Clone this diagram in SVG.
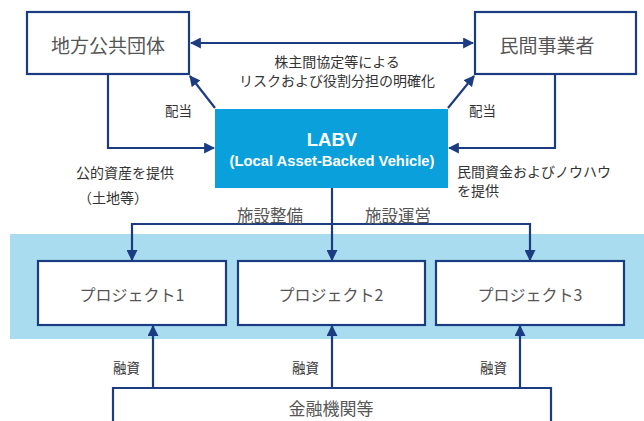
<svg xmlns="http://www.w3.org/2000/svg" width="644" height="421" viewBox="0 0 644 421">
<style>
.box{fill:#fff;stroke:#1c3c82;stroke-width:2.2}
.ln{fill:none;stroke:#1c3c82;stroke-width:2.2}
.t{font-family:"Noto Sans CJK JP","Noto Sans",sans-serif;fill:#555;text-anchor:middle;dominant-baseline:central}
.s{font-family:"Noto Sans CJK JP","Noto Sans",sans-serif;fill:#333;font-size:13.5px;dominant-baseline:central}
.m{font-size:14px}
.w{font-family:"Liberation Sans",Arial,sans-serif;fill:#fff;font-weight:bold;text-anchor:middle}
</style>
<defs>
<marker id="ah" viewBox="0 0 10 10" refX="9" refY="5" markerWidth="5" markerHeight="5" orient="auto-start-reverse" markerUnits="strokeWidth">
<path d="M0,0 L10,5 L0,10 z" fill="#1c3c82"/>
</marker>
</defs>
<rect x="10" y="234" width="634" height="105" fill="#aadcf0"/>
<g id="chihou">
<rect class="box" x="27" y="12" width="162" height="62"/>
<text class="t" x="108" y="44" font-size="19">地方公共団体</text>
</g>
<g id="minkan">
<rect class="box" x="475" y="12" width="161" height="62"/>
<text class="t" x="547" y="44" font-size="19">民間事業者</text>
</g>
<g id="labv">
<rect x="215" y="109" width="233" height="79" fill="#0aa0dc"/>
<text class="w" x="332" y="146" font-size="18.5">LABV</text>
<text class="w" x="332" y="166" font-size="14.8">(Local Asset-Backed Vehicle)</text>
</g>
<g id="p1">
<rect class="box" x="38" y="261" width="188" height="64"/>
<text class="t" x="132" y="294" font-size="16">プロジェクト1</text>
</g>
<g id="p2">
<rect class="box" x="238" y="261" width="187" height="64"/>
<text class="t" x="331" y="294" font-size="16">プロジェクト2</text>
</g>
<g id="p3">
<rect class="box" x="436" y="261" width="188" height="64"/>
<text class="t" x="530" y="294" font-size="16">プロジェクト3</text>
</g>
<g id="kinyu">
<path class="box" d="M113,425 V388 H551 V425"/>
<text class="t" x="331" y="407" font-size="17">金融機関等</text>
</g>
<g id="connectors">
<line class="ln" x1="191" y1="43" x2="473" y2="43" marker-start="url(#ah)" marker-end="url(#ah)"/>
<line class="ln" x1="215" y1="108" x2="190" y2="76" marker-end="url(#ah)"/>
<line class="ln" x1="448" y1="108" x2="474" y2="76" marker-end="url(#ah)"/>
<polyline class="ln" points="108,74 108,148 214,148" marker-end="url(#ah)"/>
<polyline class="ln" points="555,74 555,148 449,148" marker-end="url(#ah)"/>
<line class="ln" x1="332" y1="188" x2="332" y2="260" marker-end="url(#ah)"/>
<polyline class="ln" points="332,224 132,224 132,260" marker-end="url(#ah)"/>
<polyline class="ln" points="332,224 530,224 530,260" marker-end="url(#ah)"/>
<line class="ln" x1="153" y1="388" x2="153" y2="326" marker-end="url(#ah)"/>
<line class="ln" x1="332" y1="388" x2="332" y2="326" marker-end="url(#ah)"/>
<line class="ln" x1="520" y1="388" x2="520" y2="326" marker-end="url(#ah)"/>
</g>
<g id="labels">
<text class="t" x="337" y="61" font-size="14" style="fill:#333">株主間協定等による</text>
<text class="t" x="337" y="80" font-size="14" style="fill:#333">リスクおよび役割分担の明確化</text>
<text class="s" x="165" y="110">配当</text>
<text class="s" x="469" y="110">配当</text>
<text class="s m" x="76" y="172">公的資産を提供</text>
<text class="s m" x="78" y="197">（土地等）</text>
<text class="s m" x="457" y="171">民間資金およびノウハウ</text>
<text class="s m" x="457" y="190">を提供</text>
<text class="t" x="270" y="215" font-size="16.5">施設整備</text>
<text class="t" x="398" y="215" font-size="16.5">施設運営</text>
<text class="s" x="113" y="367">融資</text>
<text class="s" x="292" y="367">融資</text>
<text class="s" x="480" y="367">融資</text>
</g>
</svg>
